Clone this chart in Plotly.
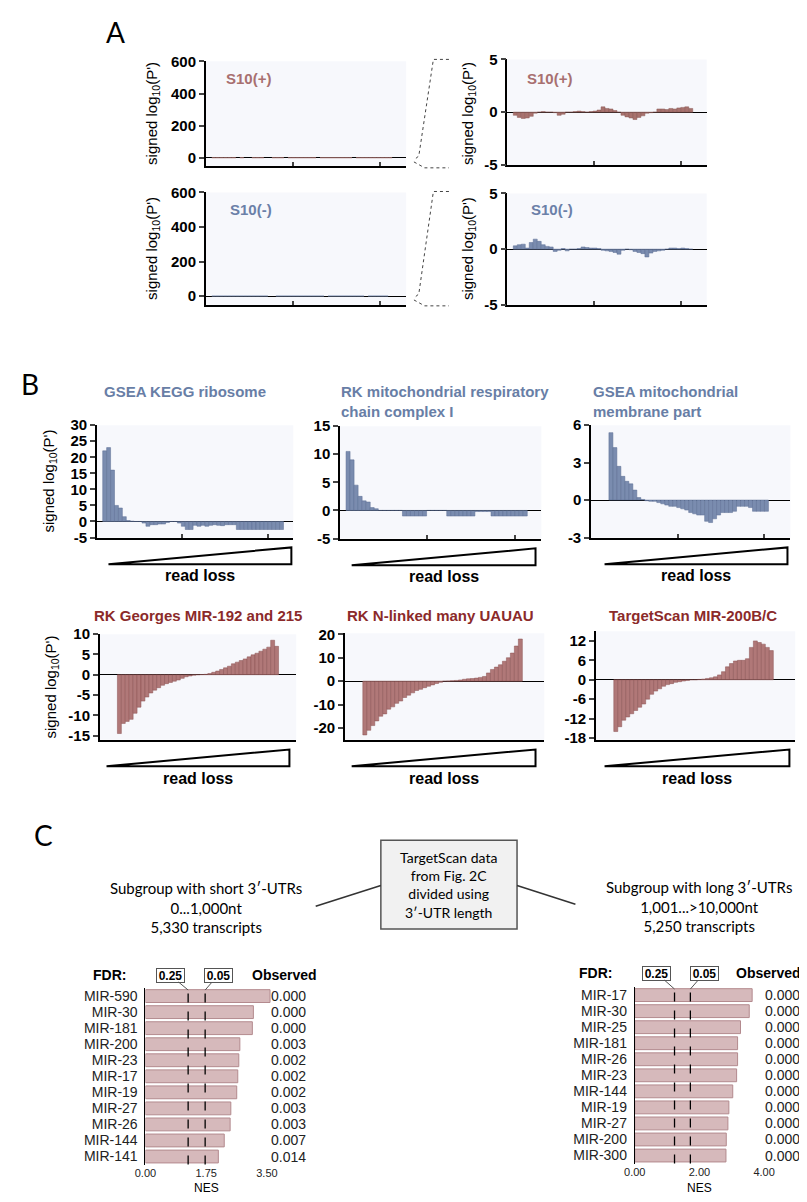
import plotly.graph_objects as go

W, H = 807, 1202
SANS = 'Liberation Sans, Arial, sans-serif'
HUM = 'Lato, Open Sans, sans-serif'

# ---------------- data ----------------
# panel A (S10 sets), bars start at x = 2
s10_plus = [-0.3, -0.5, -0.6, -0.55, -0.4, -0.1, 0.0, 0.05, 0.0, 0.0, -0.05, -0.3, -0.2, 0.0, 0.0,
            0.05, 0.1, 0.05, 0.0, 0.05, 0.1, 0.2, 0.5, 0.35, 0.3, 0.15, 0.0, -0.3, -0.45, -0.55,
            -0.7, -0.5, -0.35, -0.1, -0.05, 0.0, 0.3, 0.3, 0.25, 0.35, 0.3, 0.4, 0.45, 0.5, 0.35]
s10_minus = [0.3, 0.4, 0.45, 0.1, 0.6, 0.9, 0.7, 0.4, 0.25, 0.2, -0.2, -0.1, 0.05, -0.15, 0.0,
             0.0, 0.05, 0.2, 0.15, 0.1, 0.1, 0.05, -0.1, -0.15, -0.2, -0.3, -0.45, -0.1, 0.0, -0.05,
             -0.2, -0.3, -0.4, -0.7, -0.35, -0.2, -0.15, -0.1, 0.0, 0.1, 0.1, 0.05, 0.1, 0.05, 0.0]

# panel B gene sets
kegg_ribosome = [22, 23, 16, 5, 4.2, 1.5, 0.3, 0.1, 0, 0, -0.5, -1.5, -1, -1, -0.8, -0.8, -0.3, 0, 0,
                 -0.5, -1.5, -2.5, -2.5, -1.2, -1.5, -1.2, -1.5, -1.2, -1.0, -1.2, -1.3, -1, -1, -1,
                 -2.5, -2.5, -2.5, -2.5, -2.5, -2.5, -2.5, -2.5, -2.5, -2.5, -2.5, -2.5]
rk_complex_i = [10.5, 9, 4.5, 2.5, 1.7, 1.5, 0.5, 0.3, 0, 0, 0, 0, 0, 0, -1, -1, -1, -1, -1, -1,
                0, 0, 0, 0, 0, -1, -1, -1, -1, -1, -1, -1, -0.2, -0.2, -0.2, -0.2,
                -1, -1, -1, -1, -1, -1, -1, -1, -1]
gsea_mito_membrane = [5.4, 4.2, 2.7, 1.9, 1.5, 1.3, 0.8, 0.2, 0.05, -0.05, -0.1, -0.1, -0.2, -0.3,
                      -0.4, -0.5, -0.5, -0.6, -0.7, -0.8, -1.0, -1.1, -1.2, -1.2, -1.7, -1.8, -1.5,
                      -1.2, -1.0, -1.0, -1.0, -0.9, -0.5, -0.5, -0.5, -0.6, -0.9, -0.9, -0.9, -0.9]
rk_mir192_215 = [-14.5, -12, -11.5, -11, -9.5, -8, -6.5, -5.5, -4.5, -3.8, -3.2, -2.6, -2.2, -1.9,
                 -1.6, -1.3, -0.9, -0.5, -0.3, -0.1, 0, 0.05, 0.1, 0.3, 0.6, 0.9, 1.3, 1.7, 2.1,
                 2.7, 3.1, 3.5, 3.9, 4.4, 4.9, 5.3, 5.8, 6.3, 6.8, 8.5, 7]
rk_uauau = [-23, -21, -19, -17, -15, -14, -12, -11, -9.5, -8.5, -7, -6, -5, -4, -3.5, -2.8, -2.2,
            -1.6, -1, -0.5, 0, 0.1, 0.2, 0.3, 0.5, 0.8, 1, 1.1, 1.3, 1.6, 2, 3.5, 5, 6, 7, 8.5,
            10, 12, 15, 18]
ts_mir200bc = [-16, -14.5, -12.5, -11.5, -10.5, -9.5, -8.5, -7.5, -6, -4.5, -3.5, -2.8, -2, -1.5,
               -1.2, -0.8, -0.6, -0.4, -0.2, 0, 0, 0.1, 0.2, 0.4, 0.6, 0.9, 1.5, 2.5, 4, 5, 5.8,
               6, 6, 6.5, 10, 12, 11.5, 11, 10, 9]

# panel C
short_mirs = ['MIR-590', 'MIR-30', 'MIR-181', 'MIR-200', 'MIR-23', 'MIR-17', 'MIR-19', 'MIR-27',
              'MIR-26', 'MIR-144', 'MIR-141']
short_nes = [3.59, 3.11, 3.08, 2.72, 2.69, 2.66, 2.63, 2.46, 2.44, 2.27, 2.10]
short_obs = ['0.000', '0.000', '0.000', '0.003', '0.002', '0.002', '0.002', '0.003', '0.003',
             '0.007', '0.014']
long_mirs = ['MIR-17', 'MIR-30', 'MIR-25', 'MIR-181', 'MIR-26', 'MIR-23', 'MIR-144', 'MIR-19',
             'MIR-27', 'MIR-200', 'MIR-300']
long_nes = [3.63, 3.54, 3.27, 3.18, 3.18, 3.15, 3.03, 2.91, 2.88, 2.83, 2.82]
long_obs = ['0.000'] * 11
fdr_nes = [1.23, 1.72]
fdr_labels = ['0.25', '0.05']

# ---------------- styling ----------------
PANEL_BG = '#f7f8fc'
BLUE_BAR, BLUE_EDGE = '#7a8caf', '#5a6d92'
RED_BAR, RED_EDGE = '#b07878', '#8a5050'
S10_RED, S10_RED_EDGE = '#a8726e', '#8a5a56'
TITLE_BLUE = '#687ea6'
TITLE_RED = '#8b2a2a'
X_TICKS = [21.7, 43.5]
TICK_FONT = dict(size=15, family=SANS, color='black', weight='bold')

fig = go.Figure()
lay = {}


def px(x):
    return x / W


def py(y):
    return 1 - y / H


def names(n):
    s = '' if n == 1 else str(n)
    return 'x' + s, 'y' + s, 'xaxis' + s, 'yaxis' + s


def bar_panel(n, box, yrange, yticks, values, start, fill, edge, xticks=True, edge_w=0.5):
    x0, x1, y0, y1 = box
    xr, yr, xa, ya = names(n)
    lay[xa] = dict(domain=[px(x0), px(x1)], range=[0, 50], anchor=yr, showline=True, linecolor='black',
                   linewidth=2, ticks='inside' if xticks else '', ticklen=4, tickwidth=1.5, tickvals=X_TICKS,
                   showticklabels=False, showgrid=False, zeroline=False)
    lay[ya] = dict(domain=[py(y1), py(y0)], range=yrange, anchor=xr, showline=True, linecolor='black',
                   linewidth=1.5, ticks='outside', ticklen=5, tickwidth=1.5, tickvals=yticks,
                   ticktext=['<b>%s</b>' % v for v in yticks], tickfont=TICK_FONT, showgrid=False,
                   zeroline=True, zerolinecolor='black', zerolinewidth=1.3)
    fig.add_shape(type='rect', xref=xr + ' domain', yref=yr + ' domain', x0=0, x1=1, y0=0, y1=1,
                  fillcolor=PANEL_BG, line_width=0, layer='below')
    fig.add_trace(go.Bar(x=list(range(start, start + len(values))), y=values, width=1,
                         xaxis=xr, yaxis=yr, showlegend=False, hoverinfo='skip',
                         marker=dict(color=fill, line=dict(color=edge, width=edge_w))))


def text(x, y, s, size=15, color='black', bold=False, family=SANS, anchor='center', angle=0, align='center'):
    fig.add_annotation(x=px(x), y=py(y), xref='paper', yref='paper', text=s, showarrow=False,
                       xanchor=anchor, yanchor='middle', textangle=angle, align=align,
                       font=dict(size=size, color=color, family=family,
                                 weight='bold' if bold else 'normal'))


def wedge(x0, x1, axis_y):
    fig.add_shape(type='path', xref='paper', yref='paper',
                  path=f'M {px(x0)} {py(axis_y + 27)} L {px(x1)} {py(axis_y + 27)} '
                       f'L {px(x1)} {py(axis_y + 10)} Z',
                  fillcolor='white', line=dict(color='black', width=2))
    text((x0 + x1) / 2, axis_y + 39, 'read loss', size=16, bold=True)


YTITLE = "signed log<sub>10</sub>(P')"

# ---------------- panel A ----------------
text(99, 15, 'A', size=28, family=HUM)
# full-scale views: bars are sub-pixel at this scale, so no outline
bar_panel(1, (192, 398, 45, 151), [-49, 600], [0, 200, 400, 600], s10_plus, 2, S10_RED, S10_RED, edge_w=0)
bar_panel(2, (192, 398, 178, 292), [-51, 600], [0, 200, 400, 600], s10_minus, 2, BLUE_BAR, BLUE_BAR, edge_w=0)
bar_panel(3, (502, 707, 43, 150), [-5, 5], [-5, 0, 5], s10_plus, 2, S10_RED, S10_RED_EDGE)
bar_panel(4, (502, 707, 179, 292), [-5, 5], [-5, 0, 5], s10_minus, 2, BLUE_BAR, BLUE_EDGE)
for yc in (98, 235):
    text(137, yc, YTITLE, size=15, angle=-90)
    text(462, yc, YTITLE, size=15, angle=-90)
text(236, 62, 'S10(+)', size=15, color='#a87070', bold=True)
text(238, 195, 'S10(-)', size=15, color='#6b80a8', bold=True)
text(545, 62, 'S10(+)', size=15, color='#a87070', bold=True)
text(548, 195, 'S10(-)', size=15, color='#6b80a8', bold=True)
# zoom brackets between the full-scale and the zoomed plots
for top, zero, bot in ((43, 143, 153), (177, 283, 293)):
    fig.add_shape(type='path', xref='paper', yref='paper',
                  path=f'M {px(442)} {py(top)} L {px(426)} {py(top)} L {px(411)} {py(zero - 2)} '
                       f'L {px(406)} {py(zero + 2)} M {px(406)} {py(zero + 4)} L {px(417)} {py(bot)} '
                       f'L {px(442)} {py(bot)}',
                  line=dict(color='#444', width=1, dash='dot'))

# ---------------- panel B ----------------
text(0, 372, 'B', size=28, family=HUM, anchor='left')
bar_panel(5, (80, 282, 414, 528), [-5, 30], [-5, 0, 5, 10, 15, 20, 25, 30], kegg_ribosome, 2,
          BLUE_BAR, BLUE_EDGE)
bar_panel(6, (330, 537, 415, 529), [-5, 15], [-5, 0, 5, 10, 15], rk_complex_i, 2, BLUE_BAR, BLUE_EDGE)
bar_panel(7, (588, 793, 414, 528), [-3, 6], [-3, 0, 3, 6], gsea_mito_membrane, 5, BLUE_BAR, BLUE_EDGE)
bar_panel(8, (83, 285, 626, 733), [-16, 10], [-15, -10, -5, 0, 5, 10], rk_mir192_215, 5,
          RED_BAR, RED_EDGE, xticks=False)
bar_panel(9, (335, 540, 625, 733), [-25, 20.5], [-20, -10, 0, 10, 20], rk_uauau, 5,
          RED_BAR, RED_EDGE, xticks=False)
bar_panel(10, (593, 798, 623, 733), [-18.5, 15], [-18, -12, -6, 0, 6, 12], ts_mir200bc, 5,
          RED_BAR, RED_EDGE, xticks=False)

text(171, 380, 'GSEA KEGG ribosome', size=15, color=TITLE_BLUE, bold=True)
text(329, 390, 'RK mitochondrial respiratory<br>chain complex I', size=15, color=TITLE_BLUE,
     bold=True, anchor='left', align='left')
text(588, 390, 'GSEA mitochondrial<br>membrane part', size=15, color=TITLE_BLUE, bold=True,
     anchor='left', align='left')
text(184, 607, 'RK Georges MIR-192 and 215', size=15, color=TITLE_RED, bold=True)
text(433, 607, 'RK N-linked many UAUAU', size=15, color=TITLE_RED, bold=True)
text(693, 607, 'TargetScan MIR-200B/C', size=15, color=TITLE_RED, bold=True)
text(31, 471, YTITLE, size=15, angle=-90)
text(33, 680, YTITLE, size=15, angle=-90)

wedge(92, 280, 528)
wedge(342, 531, 529)
wedge(602, 790, 528)
wedge(90, 278, 733)
wedge(342, 531, 733)
wedge(602, 792, 733)

# ---------------- panel C ----------------
text(25, 830, 'C', size=28, family=HUM)
fig.add_shape(type='rect', xref='paper', yref='paper', x0=px(372), x1=px(512), y0=py(925), y1=py(835),
              fillcolor='#f1f1f1', line=dict(color='#555', width=1.5))
text(442, 880, "TargetScan data<br>from Fig. 2C<br>divided using<br>3\u2032-UTR length", size=14,
     family=HUM)
fig.add_shape(type='line', xref='paper', yref='paper', x0=px(305), y0=py(902), x1=px(372), y1=py(881),
              line=dict(color='#333', width=1.5))
fig.add_shape(type='line', xref='paper', yref='paper', x0=px(512), y0=py(881), x1=px(572), y1=py(900),
              line=dict(color='#333', width=1.5))
text(192, 903, "Subgroup with short 3\u2032-UTRs<br>0...1,000nt<br>5,330 transcripts", size=15, family=HUM)
text(699, 902, "Subgroup with long 3\u2032-UTRs<br>1,001...>10,000nt<br>5,250 transcripts", size=15,
     family=HUM)


def nes_panel(n, box, mirs, nes, obs, xmax, xtickvals, obs_x, fdr_y, box_dx, label_x):
    x0, x1, y0, y1 = box
    xr, yr, xa, ya = names(n)
    lay[xa] = dict(domain=[px(x0), px(x1)], range=[0, xmax], anchor=yr, showline=False, showgrid=False,
                   zeroline=False, ticks='', tickvals=xtickvals, ticktext=[f'{v:.2f}' for v in xtickvals],
                   tickfont=dict(size=11, family=SANS, color='#222'))
    lay[ya] = dict(domain=[py(y1), py(y0)], type='category', categoryorder='array', categoryarray=mirs,
                   range=[len(mirs) - 0.5, -0.5], anchor=xr, showline=True, linecolor='black', linewidth=1,
                   tickmode='array', tickvals=mirs, ticktext=mirs,
                   ticks='outside', ticklen=4, tickcolor='rgba(0,0,0,0)', showgrid=False,
                   tickfont=dict(size=14, family=SANS, color='#222'))
    fig.add_trace(go.Bar(x=nes, y=mirs, orientation='h', width=0.8, xaxis=xr, yaxis=yr, showlegend=False,
                         hoverinfo='skip', marker=dict(color='#d6b9bb', line=dict(color='#b38a8e', width=1))))
    for i, v in enumerate(obs):
        fig.add_annotation(x=px(obs_x), y=i, xref='paper', yref=yr, text=v, showarrow=False,
                           xanchor='right', font=dict(size=14, family=SANS, color='#222'))
    for v, lab, dx in zip(fdr_nes, fdr_labels, box_dx):
        fig.add_shape(type='line', xref=xr, yref='paper', x0=v, x1=v, y0=py(y1), y1=py(y0 + 2),
                      line=dict(color='black', width=1.3, dash='dash'))
        fig.add_annotation(x=v, xref=xr, y=py(y0 + 2), yref='paper', text=lab, showarrow=True,
                           arrowhead=0, arrowwidth=1, arrowcolor='#555', ax=dx, ay=fdr_y - y0 - 2,
                           bordercolor='#555', borderwidth=1, borderpad=0, bgcolor='white',
                           width=27, height=13, font=dict(size=12, family=SANS, color='black', weight='bold'))
    text(label_x, fdr_y, 'FDR:', size=14, bold=True)
    text((x0 + x0 + xtickvals[-1] / xmax * (x1 - x0)) / 2, 1188, 'NES', size=12)


nes_panel(11, (130, 262, 985, 1164), short_mirs, short_nes, short_obs, 3.7, [0, 1.75, 3.5], 297, 972,
          [-18, 13], 93)
text(273, 972, 'Observed', size=14, bold=True)
nes_panel(12, (633, 766, 984, 1163), long_mirs, long_nes, long_obs, 4.0, [0, 2, 4], 805, 970,
          [-18, 14], 593)
text(806, 970, 'Observed', size=14, bold=True, anchor='right')

fig.update_layout(width=W, height=H, margin=dict(l=0, r=0, t=0, b=0), autosize=False,
                  plot_bgcolor='white', paper_bgcolor='white', showlegend=False,
                  font=dict(family=SANS, color='black'), **lay)

fig.write_html("out.html")
